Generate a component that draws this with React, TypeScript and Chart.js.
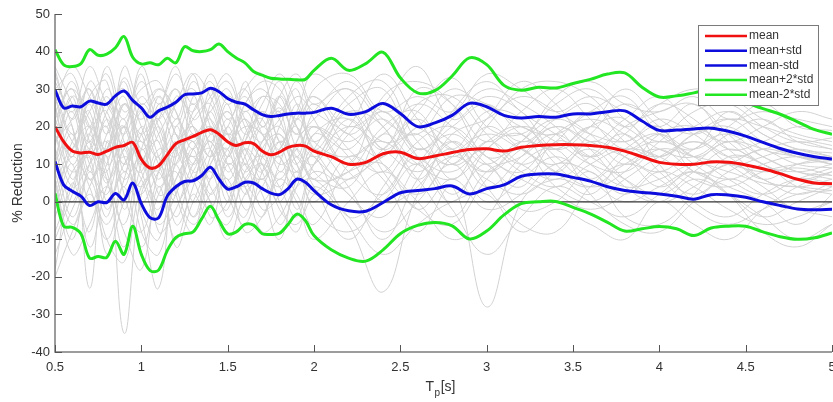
import React, { useEffect, useRef } from 'react';
import { Chart, registerables } from 'chart.js';

Chart.register(...registerables);

// ---- data ----
const X_MAIN = [
  0.5, 0.55, 0.6, 0.65, 0.7, 0.75, 0.8, 0.85, 0.9, 0.95, 1.0, 1.05, 1.1, 1.15, 1.2, 1.25,
  1.3, 1.35, 1.4, 1.45, 1.5, 1.55, 1.6, 1.65, 1.7, 1.75, 1.8, 1.85, 1.9, 1.95, 2.0,
  2.1, 2.2, 2.3, 2.4, 2.5, 2.6, 2.7, 2.8, 2.9, 3.0, 3.1, 3.2, 3.3, 3.4, 3.5, 3.6, 3.7,
  3.8, 3.9, 4.0, 4.1, 4.2, 4.3, 4.4, 4.5, 4.6, 4.7, 4.8, 4.9, 5.0,
];

const MEAN = [
  20, 16, 13.5, 13, 13.2, 12.6, 13.5, 14.5, 15, 15.8, 11.3, 9, 9.6, 12.5, 15.5, 16.5,
  17.4, 18.5, 19.2, 18, 16, 15, 15.7, 15.5, 13.5, 12.5, 13.2, 14.5, 15, 14.8, 13.5,
  12, 10, 10.5, 12.8, 13.2, 11.5, 12.2, 13.1, 13.9, 14.1, 13.5, 14.5, 15, 15.2, 15.2, 15, 14.5,
  13.5, 12, 10.5, 10, 10, 10.6, 10.5, 9.8, 8.8, 7.5, 6, 5, 4.8,
];

const MEAN_PLUS_STD = [
  29.8, 25, 25.5, 25.3, 26.8, 26.3, 26, 28.2, 29.5, 27, 25, 22.5, 24.2, 25.2, 26.5, 28.5,
  28.7, 29, 30.2, 29.3, 27.5, 26.5, 26, 24.5, 23.2, 22.7, 23, 23.4, 23.6, 23.6, 23.8,
  24.9, 23.3, 24, 26.2, 23.5, 20, 21, 23, 26.2, 25.3, 23, 22.3, 22.7, 22.5, 23.4, 23.4, 24,
  24.2, 21.5, 19, 19.1, 19.4, 19.6, 18.8, 17.5, 15.8, 14.2, 12.9, 12, 11.4,
];

const MEAN_MINUS_STD = [
  10.7, 4.5, 2.8, 1.5, -1, 0, -0.2, 2.2, 0.5, 5, -0.5, -4.2, -4.3, 1.5, 4, 5.4,
  5.6, 7, 9.2, 6, 3.4, 4, 5.2, 5, 3.5, 2.3, 1.9, 3.5, 6, 5.2, 3,
  -0.8, -2.4, -2.5, -0.2, 2.4, 3, 3.5, 4.2, 2.1, 3.5, 4.5, 6.8, 7.4, 7.4, 6.5, 5.5, 4,
  3, 2.5, 2.1, 1.5, 0.7, 1.9, 1.8, 1.2, 0, -1, -1.9, -2.1, -2,
];

const MEAN_PLUS_2STD = [
  40.5, 36.5, 36, 36.8, 40.5, 39, 39.3, 41, 44, 38.5, 36.7, 37, 36.5, 38.2, 37, 41.3,
  40.2, 40, 40.5, 42, 40, 38.3, 37, 34.7, 33.7, 32.9, 32.7, 32.6, 32.5, 32.6, 35,
  38.2, 35, 36.8, 39.8, 33, 29, 29.6, 33.5, 38.3, 36.5, 31, 29.7, 30.5, 30.3, 31.5, 32.6, 34,
  34.3, 30.5, 27.9, 28.2, 29, 29.8, 28.5, 26.5, 24.8, 23.3, 21.3, 19.2, 18,
];

const MEAN_MINUS_2STD = [
  2.3, -6.5, -6.8, -8.5, -15, -14.6, -14.8, -10.5, -14, -6.5, -14, -18.3, -18.2, -13, -9.5, -8.5,
  -8, -4.5, -1.2, -5, -8.5, -8, -6, -6.2, -8.5, -8.7, -8.4, -6, -3.3, -5, -9,
  -12.8, -15, -15.8, -12.8, -8.5, -6.3, -5.5, -6.4, -9.9, -7.8, -3.5, -0.5, 0, 0.1, -1.5, -3.2, -5.5,
  -7.8, -7.2, -6.6, -7.2, -9, -7, -6.5, -6.5, -8, -9.3, -10, -9.6, -8.3,
];

// individual runs (grey)
const X_RUNS = [
  0.5, 0.6, 0.7, 0.8, 0.9, 1.0, 1.1, 1.2, 1.3, 1.4, 1.5, 1.6, 1.7, 1.8, 1.9, 2.0,
  2.2, 2.4, 2.6, 2.8, 3.0, 3.2, 3.4, 3.6, 3.8, 4.0, 4.2, 4.4, 4.6, 4.8, 5.0,
];

const RUNS = [
  [35, 22, 30, 18, 33, 20, 12, 28, 24, 34, 26, 30, 20, 25, 18, 22, 30, 14, 24, 33, 20, 18, 26, 30, 22, 16, 20, 24, 18, 14, 12],
  [25, 10, 18, 5, 20, 8, -2, 15, 20, 12, 22, 10, 6, 14, 20, 8, 4, 18, 10, 6, 14, 20, 16, 10, 8, 14, 12, 10, 8, 9, 7],
  [15, 28, 8, 22, 10, 26, 18, 4, 14, 20, 10, 16, 24, 12, 8, 18, 22, 10, 2, 12, 18, 14, 10, 18, 26, 20, 12, 16, 14, 10, 9],
  [-18, 5, -8, 12, -35, 2, 10, 18, 6, -2, 12, 4, -4, 8, 2, -6, 10, 16, 6, -4, 8, 12, 18, 10, 4, 6, 10, 8, 5, 4, 3],
  [30, 34, 20, 36, 24, 30, 32, 22, 34, 28, 18, 26, 32, 30, 22, 28, 20, 26, 36, 22, 28, 24, 14, 20, 30, 22, 18, 22, 20, 17, 15],
  [5, -10, 8, -4, 14, -8, -14, 6, 12, 0, -6, 8, 12, 0, -8, 4, -6, -24, 2, 12, 6, 2, 8, 14, 6, 0, 4, 10, 6, 2, 5],
  [20, 14, 26, 10, 18, 32, 20, 10, 24, 30, 16, 22, 14, 6, 16, 26, 14, 8, 20, 16, 8, 14, 20, 16, 12, 8, 14, 18, 12, 8, 6],
  [10, 20, -23, 16, 6, 12, -4, 20, 10, 16, 4, -4, 14, 18, 10, 0, 12, 6, -8, 4, -28, 0, 6, 4, 10, 14, 8, 4, 0, -6, 2],
  [28, 16, 12, 24, 30, 14, 22, 30, 18, 24, 30, 18, 26, 34, 26, 16, 26, 30, 14, 22, 30, 26, 20, 12, 18, 26, 22, 14, 16, 20, 18],
  [0, 12, 4, -10, 6, 18, -8, -2, 10, 14, 0, 10, 2, -10, 6, 12, -4, 2, 12, 2, 10, -2, 0, 8, -4, -6, 2, 12, 10, 4, 2],
  [18, 8, 14, 28, 12, 4, 14, 12, 20, 8, 14, 20, 18, 10, 14, 20, 16, 22, 12, 8, 16, 20, 12, 6, 14, 18, 10, 6, 10, 12, 10],
  [-10, 2, 16, 6, -12, 10, 16, -6, 4, 20, 8, 14, 6, 16, 12, 4, -10, 4, 16, 20, 12, 6, 2, -2, 2, 10, 16, 10, 4, -2, 0],
  [24, 30, 22, 14, 26, 22, 28, 18, 12, 18, 24, 14, 8, 20, 28, 24, 18, 12, 26, 28, 18, 10, 16, 24, 20, 14, 12, 18, 22, 16, 14],
  [12, -4, 10, 20, -2, 14, 4, 10, -4, 6, 16, 2, 10, 4, -4, 10, 20, 14, 8, 14, 4, 12, 20, 14, 4, 0, 6, 2, -4, -10, -6],
  [32, 24, 36, 26, 20, 36, 26, 34, 26, 32, 22, 30, 34, 16, 24, 34, 26, 16, 20, 30, 24, 16, 22, 26, 16, 12, 18, 20, 14, 12, 10],
  [8, 18, 0, 10, 22, 0, 8, 14, 16, 4, -2, 18, 22, 8, 14, 6, 8, 20, 24, 10, 14, 8, 4, 10, 14, 12, 6, 4, 8, 10, 11],
  [-20, -8, 2, -6, 4, -12, 2, 8, -4, 10, 14, -2, 4, 12, -2, 8, 2, -8, 0, 10, 0, 6, 12, 6, 0, 4, 8, 2, -4, 0, 4],
  [22, 12, 28, 32, 8, 24, 12, 2, 28, 16, 26, 6, 16, 22, 30, 14, 24, 20, 6, 18, 22, 28, 24, 18, 10, 16, 24, 26, 20, 16, 17],
  [16, 26, 10, 2, 16, -4, -23, 12, 22, 26, 12, 24, 18, 20, 10, 2, 6, 12, 18, 6, 16, 10, 6, 12, 18, 8, 2, 8, 12, 14, 12],
  [26, 6, 20, 14, 36, 26, 30, 24, 8, 14, 28, 24, 28, 26, 18, 30, 34, 24, 28, 24, 34, 30, 24, 28, 24, 20, 26, 16, 10, 6, 8],
  [4, 16, 24, 0, 10, 16, 6, 16, 0, 10, 18, 12, -2, 2, 16, 20, 12, 0, 4, 16, 10, 16, 14, 20, 22, 10, 0, -4, 2, 6, 5],
  [34, 20, 6, 18, 28, 10, 18, 26, 30, 20, 6, 16, 28, 24, 32, 22, 10, 28, 32, 26, 12, 16, 28, 32, 26, 24, 28, 22, 24, 22, 20],
  [-4, 8, 12, -14, 0, 6, 20, 4, -6, 2, 6, -8, -4, 6, 0, -10, 0, 8, 0, -10, -4, 10, 14, 2, -6, -8, 0, 6, 2, -2, -4],
  [14, 0, 18, 24, 2, -8, 8, 22, 16, 22, 10, 4, 12, 28, 20, 12, 6, 14, 22, 14, 24, 22, 10, 4, 8, 18, 20, 14, 6, 4, 6],
  [20, 32, 16, 8, 26, 18, 24, 14, 6, 26, 32, 20, 12, 18, 8, 14, 28, 32, 16, 10, 20, 30, 32, 28, 20, 26, 30, 28, 22, 18, 16],
  [6, -14, -6, 4, -8, -18, 4, -10, 2, -6, 10, 4, -8, -4, 4, 6, -4, -14, -6, 0, 2, -8, -2, -6, -10, 0, -6, -10, -2, 4, 8],
  [22, 30, 14, 26, 18, 28, 22, 30, 20, 12, 20, 28, 18, 12, 22, 28, 18, 24, 14, 20, 26, 18, 14, 20, 16, 22, 18, 12, 14, 16, 14],
  [2, 14, 20, 8, -6, 14, 22, 2, -8, 12, 18, 6, 0, 10, 22, 14, 2, -4, 10, 18, 10, 4, 16, 12, 6, 2, 8, 14, 10, 6, 4],
  [30, 18, 24, 34, 16, 8, 26, 20, 32, 22, 14, 32, 20, 28, 14, 10, 22, 14, 30, 26, 16, 24, 30, 22, 14, 18, 14, 20, 26, 20, 19],
  [12, 24, 6, 14, 26, 12, 0, 10, 18, 6, 20, 8, 16, 24, 6, 18, 14, 24, 12, 0, 14, 18, 8, 16, 12, 4, 10, 16, 12, 8, 7],
  [-8, 4, 14, -2, 8, 2, 12, -12, 0, 8, -4, 6, 10, -2, -6, 2, 8, 10, -2, 6, -2, 2, 10, 8, 2, 8, 4, -2, -6, -4, 0],
  [26, 36, 28, 20, 32, 16, 24, 36, 22, 28, 34, 22, 16, 28, 34, 26, 32, 22, 18, 28, 26, 20, 18, 24, 28, 18, 14, 24, 18, 14, 13],
  [18, 4, 10, 16, 4, 20, 10, 0, 8, 16, 2, -6, 8, 16, 10, 20, 8, 2, 14, 10, 20, 14, 8, 2, 12, 16, 12, 6, 2, 6, 9],
  [8, -6, 4, 14, 20, -2, -10, 14, 26, 14, 4, 12, 24, 16, 6, 10, 24, 8, -2, -6, 6, 14, 4, 0, 6, 12, 16, 12, 6, 10, 12],
  [36, 26, 16, 30, 22, 34, 16, 26, 34, 18, 24, 16, 22, 32, 20, 12, 20, 34, 22, 12, 22, 32, 26, 16, 22, 28, 20, 16, 20, 24, 22],
  [-2, 10, -12, 4, 12, 6, -6, 2, 14, -4, 0, 14, 8, -6, 4, 14, 4, -10, 6, 16, 4, -6, -8, 4, 10, 6, -2, -6, -2, 2, 3],
  [16, 22, 30, 12, 20, 10, 28, 18, 10, 30, 18, 10, 20, 14, 26, 16, 12, 18, 26, 20, 12, 8, 18, 22, 18, 12, 18, 22, 16, 12, 10],
  [10, 28, 20, 6, 14, 24, 2, 6, 16, 2, 12, 22, 10, 4, 12, 6, 18, 26, 20, 14, 8, 16, 22, 18, 16, 20, 8, 10, 14, 12, 11],
  [-14, -2, 6, -10, -16, 4, 8, -4, 6, 0, -10, 2, 6, 0, 8, -2, -8, 0, 10, -2, -14, -4, 4, 0, -4, 2, 8, 2, -8, -12, -6],
  [28, 12, 32, 22, 10, 18, 30, 24, 14, 24, 12, 26, 30, 22, 12, 24, 30, 20, 10, 24, 32, 24, 18, 12, 20, 24, 26, 18, 10, 8, 10],
];

const ZERO_LINE_X = [0.5, 5];
const ZERO_LINE_Y = [0, 0];

const X_TICKS = [0.5, 1, 1.5, 2, 2.5, 3, 3.5, 4, 4.5, 5];
const X_TICK_LABELS = ['0.5', '1', '1.5', '2', '2.5', '3', '3.5', '4', '4.5', '5'];
const Y_TICKS = [-40, -30, -20, -10, 0, 10, 20, 30, 40, 50];
const Y_TICK_LABELS = ['-40', '-30', '-20', '-10', '0', '10', '20', '30', '40', '50'];

const SERIES_LABELS = ['mean', 'mean+std', 'mean-std', 'mean+2*std', 'mean-2*std'];
const SERIES_COLORS = ['#f01010', '#0c0cdc', '#0c0cdc', '#22e622', '#22e622'];
const Y_TITLE = '% Reduction';
const X_TITLE_MAIN = 'T';
const X_TITLE_SUB = 'p';
const X_TITLE_UNIT = '[s]';

const FONT = "'Liberation Sans', Arial, Helvetica, sans-serif";

function toPoints(xs: number[], ys: number[]) {
  const out: { x: number; y: number }[] = [];
  for (let i = 0; i < Math.min(xs.length, ys.length); i++) out.push({ x: xs[i], y: ys[i] });
  return out;
}

const matlabPlugin = {
  id: 'matlabDecor',
  afterDraw(chart: any) {
    const { ctx, chartArea: a, scales } = chart;
    const xs = scales.x;
    const ys = scales.y;
    ctx.save();

    // axes lines
    ctx.strokeStyle = '#7c7c7c';
    ctx.lineWidth = 1.5;
    ctx.beginPath();
    ctx.moveTo(a.left, a.top);
    ctx.lineTo(a.left, a.bottom);
    ctx.lineTo(a.right, a.bottom);
    ctx.stroke();

    // inward ticks
    ctx.strokeStyle = '#555';
    ctx.lineWidth = 1;
    ctx.beginPath();
    Y_TICKS.forEach((v) => {
      const y = Math.round(ys.getPixelForValue(v)) + 0.5;
      ctx.moveTo(a.left, y);
      ctx.lineTo(a.left + 7, y);
    });
    X_TICKS.forEach((v) => {
      const x = Math.round(xs.getPixelForValue(v)) + 0.5;
      ctx.moveTo(x, a.bottom);
      ctx.lineTo(x, a.bottom - 7);
    });
    ctx.stroke();

    // legend box
    const bx = 698, by = 25, bw = 120, bh = 80;
    ctx.fillStyle = '#ffffff';
    ctx.fillRect(bx, by, bw, bh);
    ctx.strokeStyle = '#7a7a7a';
    ctx.lineWidth = 1;
    ctx.strokeRect(bx + 0.5, by + 0.5, bw, bh);
    ctx.font = `12px ${FONT}`;
    ctx.textBaseline = 'middle';
    ctx.textAlign = 'left';
    SERIES_LABELS.forEach((lab, i) => {
      const y = by + 11 + i * 14.7;
      ctx.strokeStyle = SERIES_COLORS[i];
      ctx.lineWidth = 2.5;
      ctx.beginPath();
      ctx.moveTo(bx + 7, y);
      ctx.lineTo(bx + 49, y);
      ctx.stroke();
      ctx.fillStyle = '#333';
      ctx.fillText(lab, bx + 51, y);
    });

    // y title
    ctx.save();
    ctx.translate(18, (a.top + a.bottom) / 2);
    ctx.rotate(-Math.PI / 2);
    ctx.font = `14px ${FONT}`;
    ctx.fillStyle = '#333';
    ctx.textAlign = 'center';
    ctx.textBaseline = 'middle';
    ctx.fillText(Y_TITLE, 0, 0);
    ctx.restore();

    // x title with subscript
    const big = `14px ${FONT}`;
    const small = `10px ${FONT}`;
    ctx.textBaseline = 'alphabetic';
    ctx.textAlign = 'left';
    ctx.font = big;
    const wT = ctx.measureText(X_TITLE_MAIN).width;
    const wU = ctx.measureText(X_TITLE_UNIT).width;
    ctx.font = small;
    const wP = ctx.measureText(X_TITLE_SUB).width;
    const total = wT + wP + wU + 1;
    let x0 = (a.left + a.right) / 2 - total / 2 - 3;
    const base = 391;
    ctx.fillStyle = '#333';
    ctx.font = big;
    ctx.fillText(X_TITLE_MAIN, x0, base);
    x0 += wT + 0.5;
    ctx.font = small;
    ctx.fillText(X_TITLE_SUB, x0, base + 5);
    x0 += wP + 0.5;
    ctx.font = big;
    ctx.fillText(X_TITLE_UNIT, x0, base);

    ctx.restore();
  },
};

export default function App() {
  const ref = useRef<HTMLCanvasElement | null>(null);

  useEffect(() => {
    document.body.style.margin = '0';
    const canvas = ref.current;
    if (!canvas) return;

    const datasets: any[] = [];
    RUNS.forEach((run, i) => {
      datasets.push({
        label: `run ${i + 1}`,
        data: toPoints(X_RUNS, run),
        borderColor: '#d2d2d2',
        borderWidth: 1,
        pointRadius: 0,
        tension: 0.4,
        order: 3,
      });
    });
    datasets.push({
      label: 'zero',
      data: toPoints(ZERO_LINE_X, ZERO_LINE_Y),
      borderColor: '#333333',
      borderWidth: 1.2,
      pointRadius: 0,
      tension: 0,
      order: 2,
    });
    const mains = [MEAN, MEAN_PLUS_STD, MEAN_MINUS_STD, MEAN_PLUS_2STD, MEAN_MINUS_2STD];
    mains.forEach((ys, i) => {
      datasets.push({
        label: SERIES_LABELS[i],
        data: toPoints(X_MAIN, ys),
        borderColor: SERIES_COLORS[i],
        borderWidth: 3,
        pointRadius: 0,
        tension: 0.35,
        order: i === 0 ? 0 : 1,
      });
    });

    const chart = new Chart(canvas, {
      type: 'line',
      data: { datasets },
      options: {
        animation: false,
        responsive: false,
        devicePixelRatio: 1,
        parsing: true,
        layout: { padding: { top: 14, right: 1, left: 0, bottom: 0 } },
        plugins: {
          legend: { display: false },
          tooltip: { enabled: false },
          title: { display: false },
        },
        scales: {
          x: {
            type: 'linear',
            min: 0.5,
            max: 5,
            grid: { display: false, drawTicks: false },
            border: { display: false },
            afterBuildTicks: (scale: any) => {
              scale.ticks = X_TICKS.map((v) => ({ value: v }));
            },
            afterFit: (scale: any) => {
              scale.height = 50;
              scale.paddingLeft = 0;
              scale.paddingRight = 0;
            },
            ticks: {
              padding: 8,
              maxRotation: 0,
              autoSkip: false,
              color: '#333',
              font: { family: FONT, size: 13 },
              callback: (_v: any, idx: number) => X_TICK_LABELS[idx],
            },
          },
          y: {
            type: 'linear',
            min: -40,
            max: 50,
            grid: { display: false, drawTicks: false },
            border: { display: false },
            afterBuildTicks: (scale: any) => {
              scale.ticks = Y_TICKS.map((v) => ({ value: v }));
            },
            afterFit: (scale: any) => {
              scale.width = 55;
            },
            ticks: {
              padding: 5,
              autoSkip: false,
              color: '#333',
              font: { family: FONT, size: 13 },
              callback: (_v: any, idx: number) => Y_TICK_LABELS[idx],
            },
          },
        },
      },
      plugins: [matlabPlugin],
    });

    return () => chart.destroy();
  }, []);

  return (
    <div style={{ width: 833, height: 402, position: 'relative', background: '#fff' }}>
      <canvas ref={ref} width={833} height={402} style={{ display: 'block' }} />
    </div>
  );
}
